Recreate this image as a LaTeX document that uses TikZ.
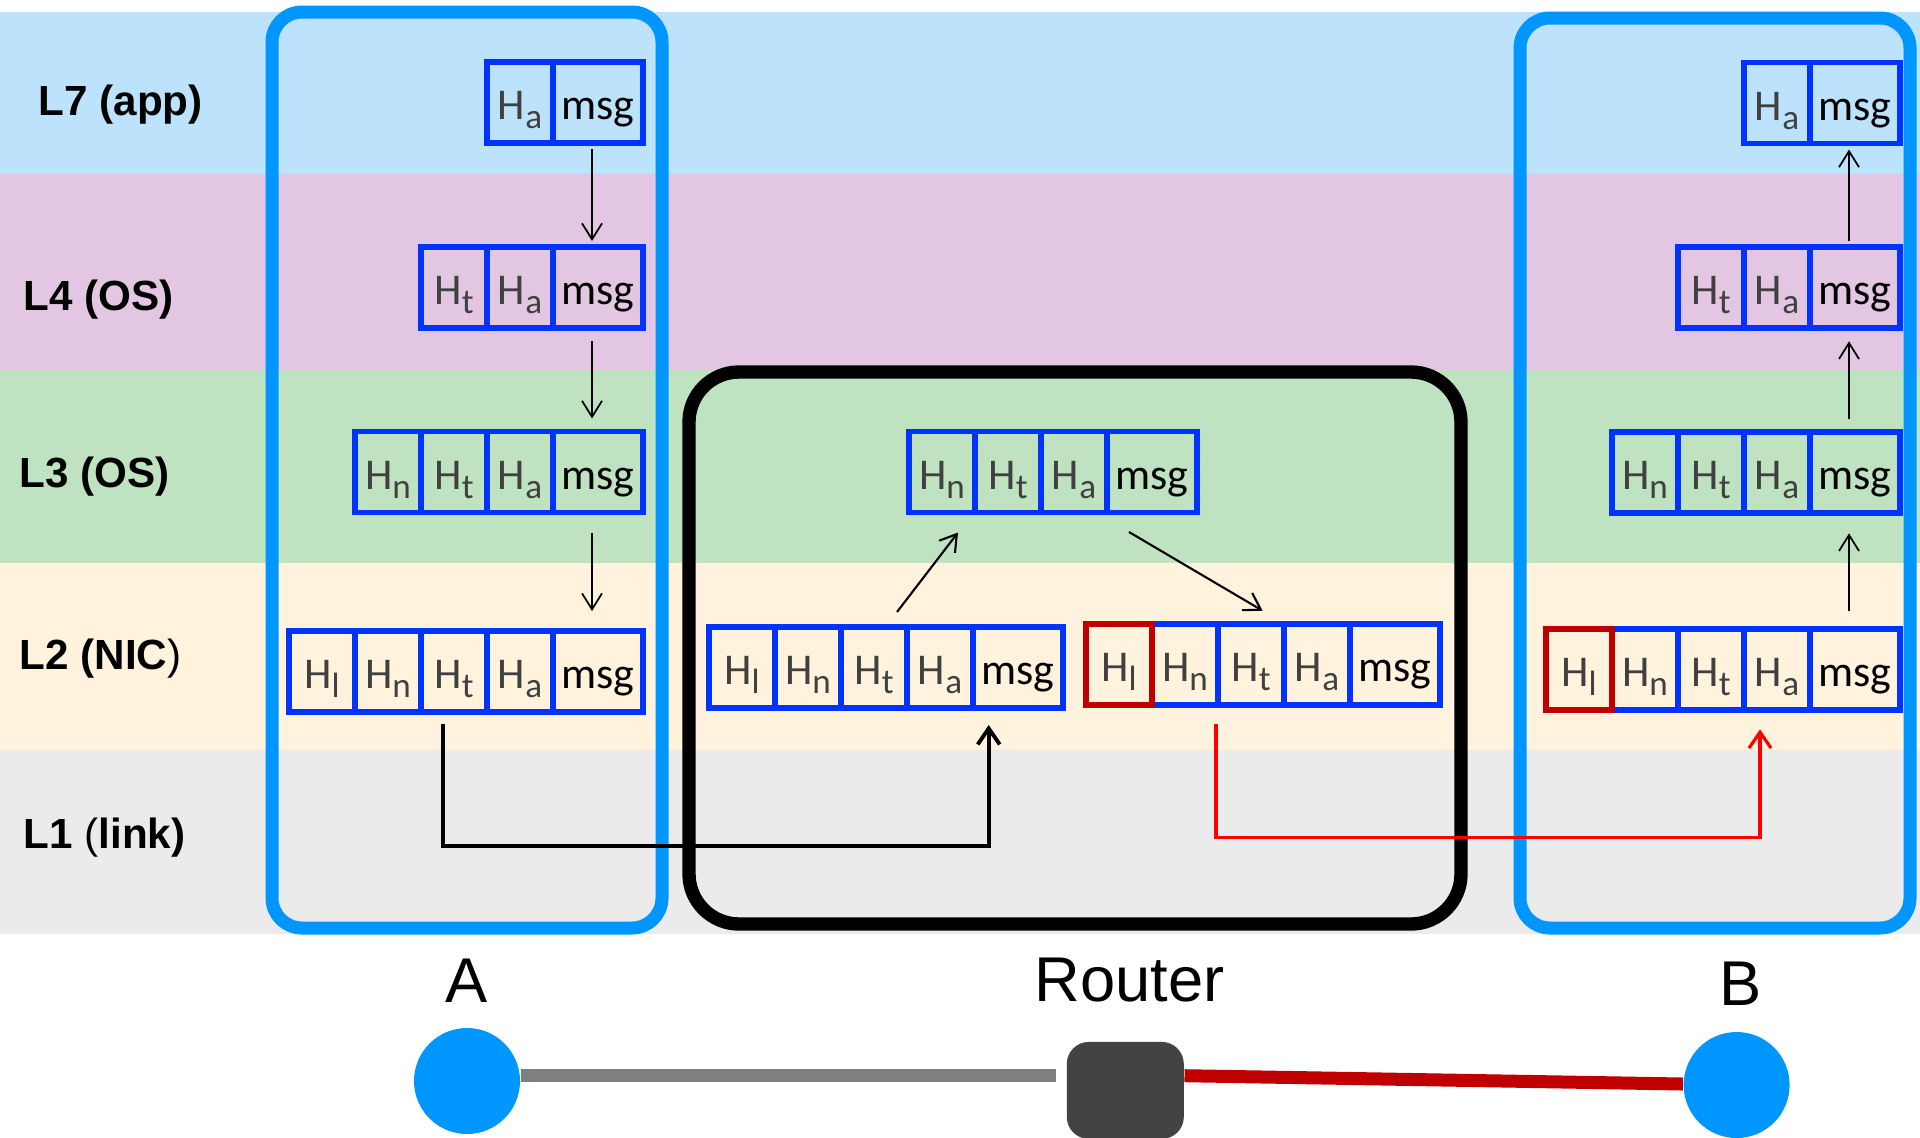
\documentclass[tikz,border=0pt]{standalone}
\usepackage{fontspec}
\setmainfont{Liberation Sans}
\newfontfamily\cellfont{Carlito}
\usepackage{tikz}
\usetikzlibrary{positioning,arrows.meta,shapes}

\definecolor{bandapp}{RGB}{189,227,252}
\definecolor{bandtrans}{RGB}{226,198,226}
\definecolor{bandnet}{RGB}{191,226,192}
\definecolor{bandnic}{RGB}{255,243,222}
\definecolor{bandlink}{RGB}{235,235,235}
\definecolor{hostblue}{RGB}{0,150,255}
\definecolor{pktblue}{RGB}{0,51,255}
\definecolor{hdrred}{RGB}{192,0,0}
\definecolor{hdrgray}{RGB}{64,64,64}
\definecolor{wiregray}{RGB}{127,127,127}
\definecolor{routergray}{RGB}{67,67,67}

% header cell text: H with a layer subscript
\newcommand{\hdr}[1]{H\raisebox{-0.09cm}{\fontsize{10}{10}\selectfont #1}}

\begin{document}
\begin{tikzpicture}[
    cell/.style={rectangle, draw=pktblue, line width=1.7pt, minimum width=0.66cm, minimum height=0.81cm,
        inner sep=0pt, outer sep=0pt, text height=0.34cm, text depth=0cm, text=hdrgray,
        font=\cellfont\fontsize{12.5}{12.5}\selectfont},
    msgcell/.style={cell, minimum width=0.9cm, text=black},
    redcell/.style={cell, draw=hdrred},
    host/.style={rectangle, draw=hostblue, line width=3.7pt, rounded corners=0.3cm, minimum width=3.9cm, inner sep=0pt, outer sep=0pt},
    layer/.style={anchor=base west, inner sep=0pt, font=\bfseries\fontsize{12}{14}\selectfont},
    arr/.style={-{Straight Barb[length=0.16cm,width=0.2cm]}, line width=0.5pt},
    link/.style={-{Straight Barb[length=0.16cm,width=0.22cm]}, line width=1.1pt},
    wire/.style={line width=3.7pt},
    endpt/.style={circle, fill=hostblue, minimum size=1.06cm, inner sep=0pt},
    hostname/.style={anchor=base, inner sep=0pt, font=\fontsize{18}{20}\selectfont}
]
    \useasboundingbox (0,0) rectangle (19.2,-11.37);
    \clip (0,0) rectangle (19.2,-11.37);

    % layer bands
    \fill[bandapp] (0,-0.12) rectangle (19.2,-1.74);
    \fill[bandtrans] (0,-1.74) rectangle (19.2,-3.70);
    \fill[bandnet] (0,-3.70) rectangle (19.2,-5.63);
    \fill[bandnic] (0,-5.63) rectangle (19.2,-7.50);
    \fill[bandlink] (0,-7.50) rectangle (19.2,-9.34);

    \node[layer] (L7) at (0.38,-1.15) {L7 (app)};
    \node[layer] (L4) at (0.23,-3.107) {L4 (OS)};
    \node[layer] (L3) at (0.19,-4.875) {L3 (OS)};
    \node[layer] (L2) at (0.19,-6.693) {L2 (NIC{\mdseries )}};
    \node[layer] (L1) at (0.23,-8.48) {L1 {\mdseries (}link)};

    % hosts and router
    \node[host, minimum height=9.16cm] (hostA) at (4.67,-4.70) {};
    \node[host, minimum height=9.10cm] (hostB) at (17.15,-4.73) {};
    \node[rectangle, draw=black, line width=3.8pt, rounded corners=0.5cm, minimum width=7.72cm, minimum height=5.52cm,
        inner sep=0pt, outer sep=0pt] (router) at (10.75,-6.48) {};

    % sender A
    \node[msgcell] (A7m) at (5.98,-1.027) {msg};
    \node[cell, left=0pt of A7m] (A7a) {\hdr{a}};

    \node[msgcell] (A4m) at (5.98,-2.875) {msg};
    \node[cell, left=0pt of A4m] (A4a) {\hdr{a}};
    \node[cell, left=0pt of A4a] (A4t) {\hdr{t}};

    \node[msgcell] (A3m) at (5.98,-4.72) {msg};
    \node[cell, left=0pt of A3m] (A3a) {\hdr{a}};
    \node[cell, left=0pt of A3a] (A3t) {\hdr{t}};
    \node[cell, left=0pt of A3t] (A3n) {\hdr{n}};

    \node[msgcell] (A2m) at (5.98,-6.715) {msg};
    \node[cell, left=0pt of A2m] (A2a) {\hdr{a}};
    \node[cell, left=0pt of A2a] (A2t) {\hdr{t}};
    \node[cell, left=0pt of A2t] (A2n) {\hdr{n}};
    \node[cell, left=0pt of A2n] (A2l) {\hdr{l}};

    % router: frame in, L3, frame out
    \node[msgcell] (R3m) at (11.52,-4.72) {msg};
    \node[cell, left=0pt of R3m] (R3a) {\hdr{a}};
    \node[cell, left=0pt of R3a] (R3t) {\hdr{t}};
    \node[cell, left=0pt of R3t] (R3n) {\hdr{n}};

    \node[msgcell] (R2m) at (10.18,-6.675) {msg};
    \node[cell, left=0pt of R2m] (R2a) {\hdr{a}};
    \node[cell, left=0pt of R2a] (R2t) {\hdr{t}};
    \node[cell, left=0pt of R2t] (R2n) {\hdr{n}};
    \node[cell, left=0pt of R2n] (R2l) {\hdr{l}};

    \node[msgcell] (S2m) at (13.95,-6.645) {msg};
    \node[cell, left=0pt of S2m] (S2a) {\hdr{a}};
    \node[cell, left=0pt of S2a] (S2t) {\hdr{t}};
    \node[cell, left=0pt of S2t] (S2n) {\hdr{n}};
    \node[redcell, left=0pt of S2n] (S2l) {\hdr{l}};

    % receiver B
    \node[msgcell] (B7m) at (18.55,-1.03) {msg};
    \node[cell, left=0pt of B7m] (B7a) {\hdr{a}};

    \node[msgcell] (B4m) at (18.55,-2.878) {msg};
    \node[cell, left=0pt of B4m] (B4a) {\hdr{a}};
    \node[cell, left=0pt of B4a] (B4t) {\hdr{t}};

    \node[msgcell] (B3m) at (18.55,-4.728) {msg};
    \node[cell, left=0pt of B3m] (B3a) {\hdr{a}};
    \node[cell, left=0pt of B3a] (B3t) {\hdr{t}};
    \node[cell, left=0pt of B3t] (B3n) {\hdr{n}};

    \node[msgcell] (B2m) at (18.55,-6.698) {msg};
    \node[cell, left=0pt of B2m] (B2a) {\hdr{a}};
    \node[cell, left=0pt of B2a] (B2t) {\hdr{t}};
    \node[cell, left=0pt of B2t] (B2n) {\hdr{n}};
    \node[redcell, left=0pt of B2n] (B2l) {\hdr{l}};

    % down the stack in A, up the stack in B
    \draw[arr, shorten <=0.06cm, shorten >=0.06cm] ([xshift=-0.06cm]A7m.south) -- ([xshift=-0.06cm]A4m.north);
    \draw[arr, shorten <=0.13cm, shorten >=0.13cm] ([xshift=-0.06cm]A4m.south) -- ([xshift=-0.06cm]A3m.north);
    \draw[arr, shorten <=0.2cm, shorten >=0.2cm] ([xshift=-0.06cm]A3m.south) -- ([xshift=-0.06cm]A2m.north);
    \draw[arr, shorten <=0.18cm, shorten >=0.2cm] ([xshift=-0.06cm]B2m.north) -- ([xshift=-0.06cm]B3m.south);
    \draw[arr, shorten <=0.13cm, shorten >=0.13cm] ([xshift=-0.06cm]B3m.north) -- ([xshift=-0.06cm]B4m.south);
    \draw[arr, shorten <=0.06cm, shorten >=0.06cm] ([xshift=-0.06cm]B4m.north) -- ([xshift=-0.06cm]B7m.south);

    % router turns the frame around
    \draw[arr, line width=0.6pt] ([xshift=-0.1cm,yshift=0.15cm]R2t.north east) -- ([xshift=-0.17cm,yshift=-0.2cm]R3n.south east);
    \draw[arr, line width=0.6pt] ([xshift=0.22cm,yshift=-0.195cm]R3m.south west) -- ([xshift=-0.214cm,yshift=0.133cm]S2a.north west);

    % over the links
    \draw[link] ([xshift=-0.11cm,yshift=-0.12cm]A2t.south) -- ++(0,-1.224) -| ([xshift=-0.293cm,yshift=-0.17cm]R2m.south);
    \draw[link, red, line width=0.9pt] ([xshift=-0.02cm,yshift=-0.19cm]S2t.south west) -- ++(0,-1.136) -| ([xshift=-0.17cm,yshift=-0.19cm]B2a.south);

    % topology
    \node[hostname] (nameA) at (4.666,-10.027) {A};
    \node[hostname] (nameR) at (11.295,-10.017) {Router};
    \node[hostname] (nameB) at (17.405,-10.05) {B};

    \node[endpt] (A) at (4.67,-10.81) {};
    \node[endpt] (B) at (17.366,-10.85) {};
    \node[rectangle, fill=routergray, rounded corners=0.22cm, minimum width=1.17cm, minimum height=0.97cm, inner sep=0pt] (R) at (11.253,-10.904) {};

    \draw[wire, wiregray] ([yshift=0.053cm]A.east) -- ([xshift=-0.1cm,yshift=0.147cm]R.west);
    \draw[wire, hdrred] ([yshift=0.147cm]R.east) -- ([yshift=0.01cm]B.west);
\end{tikzpicture}
\end{document}
